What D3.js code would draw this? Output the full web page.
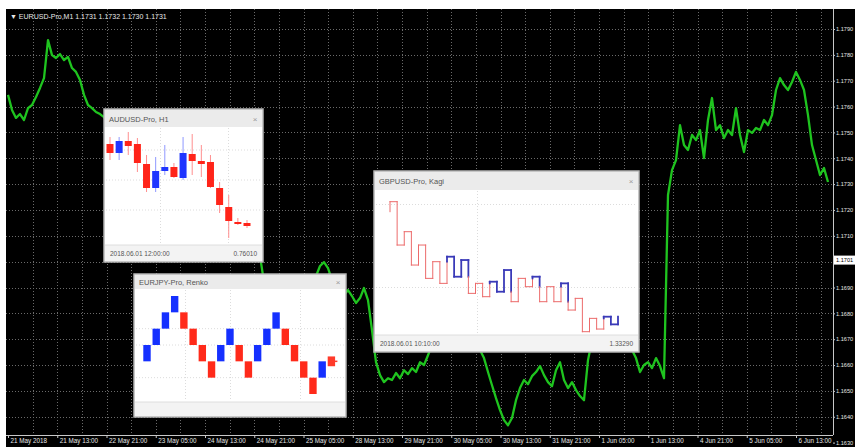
<!DOCTYPE html>
<html>
<head>
<meta charset="utf-8">
<script src="https://cdn.jsdelivr.net/npm/d3@7"></script>
<style>
  body { margin: 0; background: #fff; }
  svg { display: block; font-family: "Liberation Sans", Arial, sans-serif; }
</style>
</head>
<body>
<div id="chart-area"></div>
<script>
// ---- main EURUSD line (one close per bar) ----
var eurPrices = [
  1.17645,1.17587,1.17556,1.17571,1.17548,1.17594,1.17606,1.17637,1.17672,1.17710,
  1.17857,1.17799,1.17788,1.17803,1.17780,1.17792,1.17749,1.17734,1.17703,1.17645,
  1.17606,1.17594,1.17579,1.17571,1.17559,1.17540,1.17509,1.17470,1.17432,1.17401,
  1.17374,1.17347,1.17316,1.17277,1.17296,1.17258,1.17219,1.17200,1.17161,1.17180,
  1.17141,1.17103,1.17122,1.17083,1.17045,1.17064,1.17025,1.17045,1.17014,1.17052,
  1.17083,1.17064,1.17103,1.17083,1.17122,1.17091,1.17064,1.17045,1.17025,1.17037,
  1.17014,1.17025,1.17045,1.17022,1.16921,1.16890,1.16851,1.16871,1.16832,1.16851,
  1.16871,1.16890,1.16859,1.16882,1.16909,1.16898,1.16929,1.16944,1.16983,1.16998,
  1.16975,1.16929,1.16890,1.16909,1.16871,1.16890,1.16867,1.16840,1.16859,1.16898,
  1.16851,1.16735,1.16611,1.16561,1.16534,1.16549,1.16542,1.16569,1.16549,1.16580,
  1.16565,1.16588,1.16573,1.16611,1.16600,1.16638,1.16677,1.16716,1.16754,1.16735,
  1.16782,1.16754,1.16716,1.16735,1.16696,1.16704,1.16677,1.16689,1.16658,1.16627,
  1.16573,1.16522,1.16472,1.16426,1.16387,1.16367,1.16395,1.16464,1.16511,1.16542,
  1.16526,1.16557,1.16573,1.16596,1.16561,1.16534,1.16518,1.16580,1.16611,1.16542,
  1.16511,1.16534,1.16503,1.16480,1.16464,1.16619,1.16696,1.16735,1.16774,1.16754,
  1.16793,1.16766,1.16735,1.16743,1.16704,1.16677,1.16658,1.16627,1.16573,1.16600,
  1.16611,1.16588,1.16627,1.16596,1.16549,1.17258,1.17354,1.17393,1.17528,1.17451,
  1.17432,1.17490,1.17470,1.17509,1.17401,1.17548,1.17633,1.17509,1.17528,1.17478,
  1.17509,1.17490,1.17594,1.17490,1.17424,1.17509,1.17498,1.17517,1.17509,1.17548,
  1.17528,1.17567,1.17664,1.17710,1.17683,1.17664,1.17695,1.17734,1.17703,1.17664,
  1.17567,1.17451,1.17393,1.17335,1.17362,1.17308
];
var priceTicks = [1.1790,1.1780,1.1770,1.1760,1.1750,1.1740,1.1730,1.1720,1.1710,
                  1.1700,1.1690,1.1680,1.1670,1.1660,1.1650,1.1640,1.1630];
var currentPrice = 1.17006;
var labelHours = [0,8,16,24,32,40,48,56,64,72,80,88,96,104,112,120,128];
var timeLabels = ["21 May 2018","21 May 13:00","22 May 21:00","23 May 05:00","24 May 13:00",
                  "24 May 21:00","25 May 05:00","28 May 13:00","29 May 21:00","30 May 05:00",
                  "30 May 13:00","31 May 21:00","1 Jun 05:00","1 Jun 13:00","4 Jun 21:00",
                  "5 Jun 05:00","6 Jun 13:00"];
var chartTitle = "\u25BC EURUSD-Pro,M1  1.1731 1.1732 1.1730 1.1731";

// ---- AUDUSD H1 candles ----
var candleOpen  = [0.76430,0.76385,0.76445,0.76430,0.76330,0.76210,0.76295,0.76315,0.76260,0.76380,0.76345,0.76340,0.76210,0.76115,0.76040,0.76035];
var candleHigh  = [0.76465,0.76465,0.76490,0.76460,0.76375,0.76365,0.76425,0.76335,0.76465,0.76480,0.76425,0.76375,0.76240,0.76175,0.76060,0.76050];
var candleLow   = [0.76350,0.76350,0.76375,0.76290,0.76190,0.76190,0.76275,0.76260,0.76250,0.76275,0.76265,0.76210,0.76085,0.75960,0.76025,0.76010];
var candleClose = [0.76385,0.76445,0.76420,0.76335,0.76210,0.76295,0.76315,0.76265,0.76385,0.76345,0.76330,0.76215,0.76125,0.76045,0.76030,0.76020];

// ---- EURJPY renko bricks ----
var renkoOpen  = [128.00,128.10,128.20,128.30,128.30,128.20,128.10,128.00,128.00,128.10,128.10,128.00,128.00,128.10,128.20,128.20,128.10,128.00,127.90,127.90];
var renkoClose = [128.10,128.20,128.30,128.40,128.20,128.10,128.00,127.90,128.10,128.20,128.00,127.90,128.10,128.20,128.30,128.10,128.00,127.90,127.80,128.00];
var renkoLast  = [128.03, 127.97];

// ---- GBPUSD kagi reversal prices ----
var kagiTurns = [1.33920,1.33980,1.33720,1.33800,1.33600,1.33720,1.33520,1.33620,1.33490,1.33650,
                 1.33530,1.33630,1.33430,1.33490,1.33410,1.33500,1.33440,1.33570,1.33380,1.33520,
                 1.33470,1.33530,1.33380,1.33470,1.33380,1.33490,1.33330,1.33400,1.33200,1.33280,
                 1.33216,1.33290,1.33244,1.33290];

var W = 855, H = 447;
var plot = { left: 6, top: 9, right: 833, bottom: 435 };

var svg = d3.select("#chart-area").append("svg")
    .attr("width", W)
    .attr("height", H);

svg.append("rect").attr("width", W).attr("height", H).attr("fill", "#fff");
svg.append("rect")
    .attr("x", plot.left).attr("y", plot.top)
    .attr("width", W - plot.left).attr("height", H - plot.top)
    .attr("fill", "#000");

svg.append("clipPath").attr("id", "plotclip")
  .append("rect")
    .attr("x", plot.left).attr("y", plot.top)
    .attr("width", plot.right - plot.left).attr("height", plot.bottom - plot.top);

var x = d3.scaleLinear().domain([0, eurPrices.length - 1]).range([8, 828]);
var xTime = d3.scaleLinear().domain([0, 128]).range([8, 796]);
var y = d3.scaleLinear()
    .domain([priceTicks[0], priceTicks[priceTicks.length - 1]])
    .range([29, 442.6]);

// grid
var grid = svg.append("g").attr("clip-path", "url(#plotclip)")
    .attr("stroke", "#6a6a6a").attr("stroke-dasharray", "1,2").attr("stroke-width", 1);

grid.selectAll(".vg").data(d3.range(4, 133, 4)).enter()
  .append("line")
    .attr("x1", d => Math.round(xTime(d)) + 0.5).attr("x2", d => Math.round(xTime(d)) + 0.5)
    .attr("y1", plot.top).attr("y2", plot.bottom);

grid.selectAll(".hg").data(priceTicks).enter()
  .append("line")
    .attr("x1", plot.left).attr("x2", plot.right)
    .attr("y1", d => Math.round(y(d)) + 0.5).attr("y2", d => Math.round(y(d)) + 0.5);

// price line
svg.append("path")
    .datum(eurPrices)
    .attr("clip-path", "url(#plotclip)")
    .attr("fill", "none")
    .attr("stroke", "#1fc41f")
    .attr("stroke-width", 2.3)
    .attr("stroke-linejoin", "round")
    .attr("d", d3.line().x((d, i) => x(i)).y(d => y(d)));

// axes
var bottom = d3.axisBottom(xTime)
    .tickValues(labelHours)
    .tickFormat((d, i) => timeLabels[i])
    .tickSize(3)
    .tickSizeOuter(0);

var bAxis = svg.append("g")
    .attr("transform", "translate(0," + plot.bottom + ")")
    .call(bottom);
bAxis.select(".domain").attr("stroke", "#c8c8c8").attr("d", "M" + plot.left + ",0.5H" + plot.right);
bAxis.selectAll("line").attr("stroke", "#c8c8c8");
bAxis.selectAll("text")
    .attr("fill", "#e6e6e6")
    .attr("font-size", "6.3px")
    .attr("text-anchor", "start")
    .attr("x", 2)
    .attr("y", 4);

var right = d3.axisRight(y)
    .tickValues(priceTicks.filter(d => Math.abs(y(d) - y(currentPrice)) > 6))
    .tickFormat(d3.format(".4f"))
    .tickSize(2)
    .tickSizeOuter(0);

var rAxis = svg.append("g")
    .attr("transform", "translate(" + plot.right + ",0)")
    .call(right);
rAxis.select(".domain").attr("stroke", "#c8c8c8").attr("d", "M0.5," + plot.top + "V" + plot.bottom);
rAxis.selectAll("line").attr("stroke", "#c8c8c8");
rAxis.selectAll("text")
    .attr("fill", "#e6e6e6")
    .attr("font-size", "5.6px")
    .attr("x", 3);

// current price tag
svg.append("rect")
    .attr("x", plot.right + 1).attr("y", y(currentPrice) - 4.5)
    .attr("width", W - plot.right - 1).attr("height", 9)
    .attr("fill", "#fff");
svg.append("text")
    .attr("x", plot.right + 3).attr("y", y(currentPrice) + 2)
    .attr("font-size", "5.6px").attr("fill", "#000")
    .text(d3.format(".4f")(currentPrice));

svg.append("text")
    .attr("x", 10).attr("y", 19)
    .attr("font-size", "7px").attr("fill", "#e8e8e8")
    .text(chartTitle);

// ---- popup windows ----
function drawWindow(b, title, footL, footR) {
    var g = svg.append("g");
    g.append("rect")
        .attr("x", b.x).attr("y", b.y).attr("width", b.w).attr("height", b.h)
        .attr("fill", "#fff").attr("stroke", "#b4b4b4").attr("stroke-width", 1.5);
    g.append("rect")
        .attr("x", b.x + 1).attr("y", b.y + 1).attr("width", b.w - 2).attr("height", b.title)
        .attr("fill", "#ebebeb");
    g.append("text")
        .attr("x", b.x + 5).attr("y", b.y + b.title / 2 + 4)
        .attr("font-size", "7.5px").attr("fill", "#555")
        .text(title);
    g.append("text")
        .attr("x", b.x + b.w - 8).attr("y", b.y + b.title / 2 + 4)
        .attr("font-size", "8px").attr("fill", "#999").attr("text-anchor", "middle")
        .text("\u00D7");
    g.append("rect")
        .attr("x", b.x + 1).attr("y", b.y + b.h - b.foot - 1).attr("width", b.w - 2).attr("height", b.foot)
        .attr("fill", "#f3f3f3");
    g.append("line")
        .attr("x1", b.x + 1).attr("x2", b.x + b.w - 1)
        .attr("y1", b.y + b.h - b.foot - 1).attr("y2", b.y + b.h - b.foot - 1)
        .attr("stroke", "#dedede");
    if (footL) {
        g.append("text")
            .attr("x", b.x + 6).attr("y", b.y + b.h - b.foot / 2 + 2)
            .attr("font-size", "6.5px").attr("fill", "#555").text(footL);
        g.append("text")
            .attr("x", b.x + b.w - 6).attr("y", b.y + b.h - b.foot / 2 + 2)
            .attr("font-size", "6.5px").attr("fill", "#555").attr("text-anchor", "end").text(footR);
    }
    return g;
}

function innerGrid(g, xs, ys, b) {
    var gg = g.append("g").attr("stroke", "#dcdcdc").attr("stroke-dasharray", "1,2");
    gg.selectAll(".h").data(ys).enter().append("line")
        .attr("x1", b.x + 2).attr("x2", b.x + b.w - 2).attr("y1", d => d).attr("y2", d => d);
    gg.selectAll(".v").data(xs).enter().append("line")
        .attr("y1", b.y + b.title + 2).attr("y2", b.y + b.h - b.foot - 2).attr("x1", d => d).attr("x2", d => d);
}

// AUDUSD candles
var b1 = { x: 104, y: 109, w: 159, h: 153, title: 17, foot: 16 };
var w1 = drawWindow(b1, "AUDUSD-Pro, H1", "2018.06.01 12:00:00", "0.76010");
var xc = d3.scaleLinear().domain([0, candleOpen.length - 1]).range([110, 247]);
var yc = d3.scaleLinear().domain([0.7650, 0.7595]).range([130, 240]);
innerGrid(w1, [160.5, 228.5], [yc(0.7640), yc(0.7625), yc(0.7610)], b1);

var candles = w1.selectAll(".candle").data(candleOpen).enter().append("g");
candles.append("line")
    .attr("x1", (d, i) => xc(i)).attr("x2", (d, i) => xc(i))
    .attr("y1", (d, i) => yc(candleHigh[i])).attr("y2", (d, i) => yc(candleLow[i]))
    .attr("stroke", (d, i) => candleClose[i] >= d ? "#8f98ff" : "#ff8f8f")
    .attr("stroke-width", 1);
candles.append("rect")
    .attr("x", (d, i) => xc(i) - 3.5)
    .attr("width", 7)
    .attr("y", (d, i) => yc(Math.max(d, candleClose[i])))
    .attr("height", (d, i) => Math.max(1.5, yc(Math.min(d, candleClose[i])) - yc(Math.max(d, candleClose[i]))))
    .attr("fill", (d, i) => candleClose[i] >= d ? "#1f35ff" : "#ff2419");

// EURJPY renko
var b2 = { x: 134, y: 274, w: 212, h: 143, title: 14, foot: 14 };
var w2 = drawWindow(b2, "EURJPY-Pro, Renko", null, null);
var xr = d3.scaleLinear().domain([0, renkoOpen.length]).range([147, 331.4]);
var yr = d3.scaleLinear().domain([128.40, 127.80]).range([296, 394]);
innerGrid(w2, [185.5, 230.5, 300.5], [yr(128.20), yr(128.10), yr(127.90)], b2);

w2.selectAll(".brick").data(renkoOpen).enter().append("rect")
    .attr("x", (d, i) => xr(i) - 3.7)
    .attr("width", 7.4)
    .attr("y", (d, i) => yr(Math.max(d, renkoClose[i])))
    .attr("height", (d, i) => yr(Math.min(d, renkoClose[i])) - yr(Math.max(d, renkoClose[i])))
    .attr("fill", (d, i) => renkoClose[i] > d ? "#1530ff" : "#ff2a1a");
var nR = renkoOpen.length;
w2.append("rect")
    .attr("x", xr(nR) - 3.7).attr("width", 7.4)
    .attr("y", yr(renkoLast[0])).attr("height", yr(renkoLast[1]) - yr(renkoLast[0]))
    .attr("fill", "#ff3a2a");
w2.append("line")
    .attr("x1", xr(nR) - 2).attr("x2", xr(nR) + 6)
    .attr("y1", yr((renkoLast[0] + renkoLast[1]) / 2)).attr("y2", yr((renkoLast[0] + renkoLast[1]) / 2))
    .attr("stroke", "#ff3a2a").attr("stroke-width", 1.5);

// GBPUSD kagi
var b3 = { x: 374, y: 171, w: 265, h: 181, title: 18, foot: 16 };
var w3 = drawWindow(b3, "GBPUSD-Pro, Kagi", "2018.06.01 10:10:00", "1.33290");
var xk = d3.scaleLinear().domain([0, kagiTurns.length - 2]).range([390, 618]);
var yk = d3.scaleLinear().domain([1.3398, 1.3320]).range([201.7, 331.7]);
innerGrid(w3, [477.5], [204.5, 287.5], b3);

var segs = [];
var yang = false, shoulder = null, waist = null;
for (var k = 0; k < kagiTurns.length - 1; k++) {
    var a = kagiTurns[k], b = kagiTurns[k + 1], cx = xk(k);
    if (b > a) {
        if (!yang && shoulder !== null && b > shoulder) {
            segs.push({ x1: cx, x2: cx, p1: a, p2: shoulder, yang: false });
            segs.push({ x1: cx, x2: cx, p1: shoulder, p2: b, yang: true });
            yang = true;
        } else {
            segs.push({ x1: cx, x2: cx, p1: a, p2: b, yang: yang });
        }
        shoulder = b;
    } else {
        if (yang && waist !== null && b < waist) {
            segs.push({ x1: cx, x2: cx, p1: a, p2: waist, yang: true });
            segs.push({ x1: cx, x2: cx, p1: waist, p2: b, yang: false });
            yang = false;
        } else {
            segs.push({ x1: cx, x2: cx, p1: a, p2: b, yang: yang });
        }
        waist = b;
    }
    if (k < kagiTurns.length - 2) {
        segs.push({ x1: cx, x2: xk(k + 1), p1: b, p2: b, yang: yang });
    }
}

w3.selectAll(".kagi").data(segs).enter().append("line")
    .attr("x1", d => d.x1).attr("x2", d => d.x2)
    .attr("y1", d => yk(d.p1)).attr("y2", d => yk(d.p2))
    .attr("stroke", d => d.yang ? "#3a3ab8" : "#ec6b6b")
    .attr("stroke-width", d => d.yang ? 1.8 : 1)
    .attr("stroke-linecap", "square");
</script>
</body>
</html>
